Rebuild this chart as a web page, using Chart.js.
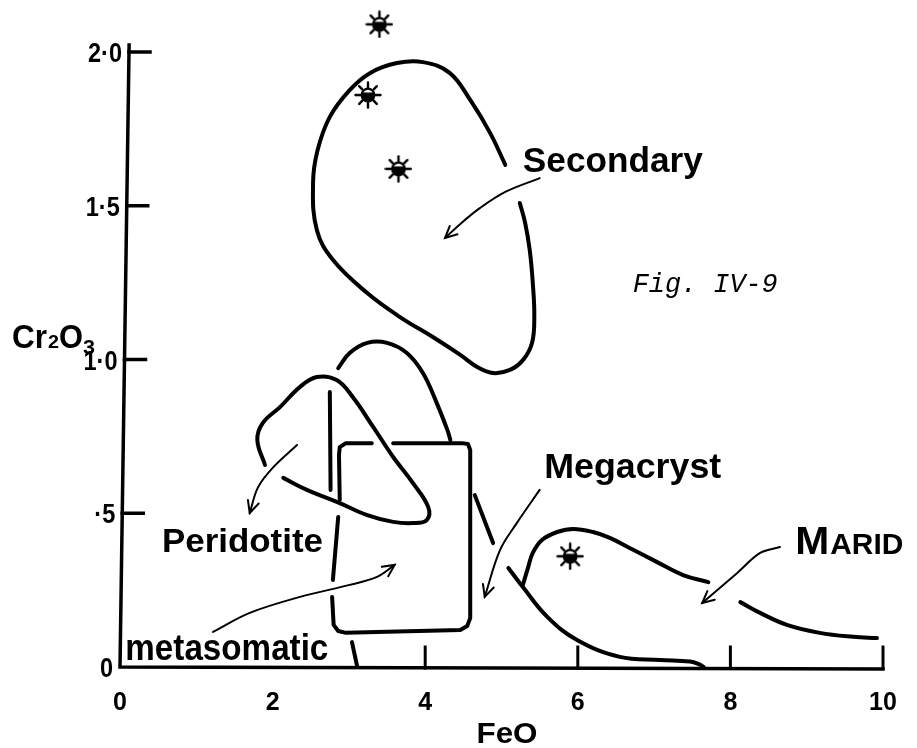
<!DOCTYPE html>
<html>
<head>
<meta charset="utf-8">
<title>FeO vs Cr2O3</title>
<script src="https://cdn.jsdelivr.net/npm/chart.js@4.4.1/dist/chart.umd.min.js"></script>
<style>
  html, body { margin: 0; padding: 0; background: #fff; }
  #plot { display: block; }
</style>
</head>
<body>
<canvas id="plot" width="917" height="748"></canvas>
<script>
// axes
const xTicks = [0, 2, 4, 6, 8, 10];
const xTickLabels = ['0', '2', '4', '6', '8', '10'];
const xTickMarks = [4, 6, 8, 10];
const yTicks = [0, 0.5, 1.0, 1.5, 2.0];
const yTickLabels = ['0', '·5', '1·0', '1·5', '2·0'];
const yTop = 2.12; // headroom for the grain plotted above 2·0

// field outlines as [FeO, Cr2O3]; null = pen lifted
const secondaryField = [[5.05,1.633],[4.85,1.737],[4.59,1.844],[4.32,1.932],[3.97,1.967],[3.63,1.964],
  [3.28,1.932],[3.01,1.876],[2.75,1.789],[2.59,1.681],[2.53,1.574],[2.58,1.421],[2.79,1.324],
  [3.24,1.216],[3.67,1.138],[4.10,1.073],[4.46,1.015],[4.68,0.976],[4.89,0.956],[5.11,0.966],
  [5.28,0.998],[5.40,1.054],[5.43,1.138],[5.41,1.249],[5.37,1.356],[5.31,1.444],[5.24,1.509]];
const archField = [[2.86,0.972],[3.01,1.021],[3.24,1.054],[3.50,1.054],[3.76,1.021],[3.97,0.956],
  [4.15,0.859],[4.29,0.771],[4.33,0.738]];
const peridotiteField = [[1.90,0.657],[1.80,0.738],[1.87,0.793],[2.10,0.846],[2.36,0.911],[2.58,0.943],
  [2.84,0.933],[3.05,0.878],[3.32,0.780],[3.58,0.683],[3.84,0.598],[4.04,0.520],[4.02,0.478],
  [3.84,0.468],[3.58,0.472],[3.24,0.494],[2.88,0.533],[2.45,0.576],[2.14,0.615]];
const metasomaticBox = [[3.30,0.728],[2.96,0.728],[2.88,0.715],[2.87,0.689],[2.88,0.543], null,
  [2.86,0.488],[2.79,0.283], null,
  [2.78,0.228],[2.80,0.137],[2.86,0.117],[2.96,0.111],[4.46,0.120],[4.55,0.133],[4.59,0.159],
  [4.59,0.706],[4.56,0.725],[4.48,0.728],[3.58,0.728]];
const boxSideLine = [[2.75,0.894],[2.76,0.576]];
const boxFootLine = [[3.04,0.081],[3.11,0.0]];
const megacrystLine = [[4.65,0.559],[4.89,0.403]];
const maridLower = [[5.09,0.322],[5.28,0.260],[5.60,0.163],[5.99,0.088],[6.55,0.033],[7.08,0.023],
  [7.47,0.018],[7.60,0.008],[7.65,0.0]];
const maridUpper = [[5.28,0.267],[5.35,0.325],[5.41,0.371],[5.53,0.413],[5.73,0.439],[5.94,0.449],
  [6.20,0.439],[6.42,0.420],[6.68,0.387],[7.04,0.341],[7.38,0.299],[7.71,0.276]];
const maridTail = [[8.13,0.211],[8.39,0.176],[8.74,0.137],[9.17,0.111],[9.61,0.098],[9.92,0.094]];

// pointer arrows, tail first
const secondaryArrow = [[5.50,1.590],[5.05,1.545],[4.72,1.493],[4.46,1.441],[4.26,1.395]];
const peridotiteArrow = [[2.32,0.722],[2.01,0.650],[1.81,0.585],[1.70,0.501]];
const metasomaticArrow = [[1.22,0.114],[1.70,0.176],[2.36,0.228],[3.01,0.267],[3.37,0.293],[3.60,0.332]];
const megacrystArrow = [[5.50,0.576],[5.20,0.468],[4.98,0.380],[4.78,0.228]];
const maridArrow = [[8.65,0.390],[8.39,0.371],[8.09,0.306],[7.63,0.208]];

// analysed grains
const starFeO = [3.40, 3.25, 3.65, 5.90];
const starCr2O3 = [2.09, 1.86, 1.62, 0.36];

function toPoints(list) {
  return list.map(p => p ? { x: p[0], y: p[1] } : { x: null, y: null });
}

// half-filled circle with rays
function makeStar() {
  const c = document.createElement('canvas');
  c.width = 28; c.height = 28;
  const g = c.getContext('2d');
  const cx = 14, cy = 14;
  g.strokeStyle = '#000';
  g.lineWidth = 2.4;
  g.lineCap = 'round';
  for (let i = 0; i < 8; i++) {
    const a = i * Math.PI / 4;
    g.beginPath();
    g.moveTo(cx + Math.cos(a) * 7, cy + Math.sin(a) * 7);
    g.lineTo(cx + Math.cos(a) * 12.5, cy + Math.sin(a) * 12.5);
    g.stroke();
  }
  g.fillStyle = '#fff';
  g.beginPath(); g.arc(cx, cy, 7, 0, Math.PI * 2); g.fill();
  g.fillStyle = '#000';
  g.beginPath(); g.arc(cx, cy, 7.2, -0.35, Math.PI + 0.35); g.closePath(); g.fill();
  g.lineWidth = 2.2;
  g.beginPath(); g.arc(cx, cy, 6.3, 0, Math.PI * 2); g.stroke();
  return c;
}

function outline(data, opts) {
  return Object.assign({
    data: toPoints(data),
    showLine: true,
    borderColor: '#000',
    borderWidth: 4,
    borderCapStyle: 'round',
    borderJoinStyle: 'round',
    tension: 0.4,
    pointRadius: 0,
    spanGaps: false,
    clip: false
  }, opts || {});
}

function arrow(data) {
  return outline(data, { borderWidth: 2, arrow: true, tension: 0.35 });
}

const datasets = [
  outline(secondaryField),
  outline(archField),
  outline(peridotiteField),
  outline(metasomaticBox, { tension: 0 }),
  outline(boxSideLine, { tension: 0 }),
  outline(boxFootLine, { tension: 0 }),
  outline(megacrystLine, { tension: 0 }),
  outline(maridLower),
  outline(maridUpper),
  outline(maridTail),
  arrow(secondaryArrow),
  arrow(peridotiteArrow),
  arrow(metasomaticArrow),
  arrow(megacrystArrow),
  arrow(maridArrow),
  {
    data: starFeO.map((x, i) => ({ x: x, y: starCr2O3[i] })),
    showLine: false,
    pointStyle: makeStar(),
    pointRadius: 10,
    clip: false
  }
];

// text placed in data coordinates
const fieldLabels = [
  { text: 'Secondary', x: 5.28, y: 1.61, font: 'bold 35px "Liberation Sans", Arial, sans-serif', width: 180 },
  { text: 'Megacryst', x: 5.56, y: 0.615, font: 'bold 35px "Liberation Sans", Arial, sans-serif', width: 177 },
  { text: 'Peridotite', x: 0.55, y: 0.374, font: 'bold 33px "Liberation Sans", Arial, sans-serif', width: 161 },
  { text: 'metasomatic', x: 0.07, y: 0.023, font: 'bold 36px "Liberation Sans", Arial, sans-serif', width: 203 },
  { text: 'Fig. IV-9', x: 6.72, y: 1.22, font: 'italic 27px "Liberation Mono", "Courier New", monospace', width: 145 }
];

function fitText(ctx, text, x, y, font, width) {
  ctx.save();
  ctx.font = font;
  const w = ctx.measureText(text).width;
  ctx.translate(x, y);
  ctx.scale(width ? width / w : 1, 1);
  ctx.fillText(text, 0, 0);
  ctx.restore();
  return width || w;
}

const axesPlugin = {
  id: 'handAxes',
  afterDatasetsDraw(chart) {
    const ctx = chart.ctx;
    const xs = chart.scales.x, ys = chart.scales.y;
    const area = chart.chartArea;
    const top = ys.getPixelForValue(2.0);
    const lean = 9; // y axis leans right toward the top
    const axisX = py => area.left + lean * (area.bottom - py) / (area.bottom - top);

    ctx.save();
    ctx.strokeStyle = '#000';
    ctx.fillStyle = '#000';
    ctx.lineCap = 'square';
    ctx.lineWidth = 3.5;

    // axis lines
    ctx.beginPath();
    ctx.moveTo(axisX(top - 7), top - 7);
    ctx.lineTo(area.left, area.bottom);
    ctx.lineTo(area.right, area.bottom + 2);
    ctx.stroke();

    // inward ticks
    yTicks.forEach(v => {
      if (v === 0) return;
      const py = ys.getPixelForValue(v);
      ctx.beginPath();
      ctx.moveTo(axisX(py), py);
      ctx.lineTo(axisX(py) + 21, py);
      ctx.stroke();
    });
    ctx.lineWidth = 3;
    xTickMarks.forEach(v => {
      const px = xs.getPixelForValue(v);
      ctx.beginPath();
      ctx.moveTo(px, area.bottom + 1);
      ctx.lineTo(px, area.bottom - 20);
      ctx.stroke();
    });

    // tick labels
    ctx.textBaseline = 'alphabetic';
    ctx.textAlign = 'left';
    const tickFont = 'bold 28px "Liberation Sans", Arial, sans-serif';
    yTicks.forEach((v, i) => {
      const py = ys.getPixelForValue(v);
      ctx.font = tickFont;
      const w = ctx.measureText(yTickLabels[i]).width * 0.84;
      fitText(ctx, yTickLabels[i], axisX(py) - 7 - w, py + 10, tickFont, w);
    });
    const xFont = 'bold 25px "Liberation Sans", Arial, sans-serif';
    xTicks.forEach((v, i) => {
      const px = xs.getPixelForValue(v);
      ctx.font = xFont;
      const w = ctx.measureText(xTickLabels[i]).width;
      fitText(ctx, xTickLabels[i], px - w / 2, area.bottom + 43, xFont, w);
    });

    // axis titles
    fitText(ctx, 'FeO', (area.left + area.right) / 2 - 25, area.bottom + 76,
      'bold 29px "Liberation Sans", Arial, sans-serif', 61);
    const ty = ys.getPixelForValue(1.0) - 12;
    let tx = area.left - 108;
    tx += fitText(ctx, 'Cr', tx, ty, 'bold 34px "Liberation Sans", Arial, sans-serif', 35);
    tx += fitText(ctx, '2', tx + 1, ty, 'bold 19px "Liberation Sans", Arial, sans-serif', 11) + 1;
    tx += fitText(ctx, 'O', tx, ty, 'bold 34px "Liberation Sans", Arial, sans-serif', 24);
    fitText(ctx, '3', tx, ty + 6, 'bold 21px "Liberation Sans", Arial, sans-serif', 12);

    // field names
    fieldLabels.forEach(l => {
      fitText(ctx, l.text, xs.getPixelForValue(l.x), ys.getPixelForValue(l.y), l.font, l.width);
    });
    // MARID in small capitals
    const mx = xs.getPixelForValue(8.85), my = ys.getPixelForValue(0.367);
    const mw = fitText(ctx, 'M', mx, my, 'bold 38px "Liberation Sans", Arial, sans-serif', 34);
    fitText(ctx, 'ARID', mx + mw + 1, my, 'bold 29px "Liberation Sans", Arial, sans-serif', 73);

    // open arrowheads at the end of each pointer
    ctx.lineWidth = 2;
    ctx.lineCap = 'round';
    chart.data.datasets.forEach((ds, i) => {
      if (!ds.arrow) return;
      const pts = chart.getDatasetMeta(i).data;
      const a = pts[pts.length - 2], b = pts[pts.length - 1];
      const ang = Math.atan2(b.y - a.y, b.x - a.x);
      const len = 13, spread = 0.45;
      ctx.beginPath();
      ctx.moveTo(b.x - len * Math.cos(ang - spread), b.y - len * Math.sin(ang - spread));
      ctx.lineTo(b.x, b.y);
      ctx.lineTo(b.x - len * Math.cos(ang + spread), b.y - len * Math.sin(ang + spread));
      ctx.stroke();
    });
    ctx.restore();
  }
};

// 2·0 sits 52px from the top, so the extra headroom shrinks the top padding
const topPad = 52 - (yTop - 2.0) * 615 / 2.0;

new Chart(document.getElementById('plot').getContext('2d'), {
  type: 'scatter',
  data: { datasets: datasets },
  options: {
    responsive: false,
    animation: false,
    layout: { padding: { left: 120, right: 34, top: topPad, bottom: 81 } },
    plugins: { legend: { display: false }, tooltip: { enabled: false } },
    scales: {
      x: { type: 'linear', min: 0, max: 10, display: false },
      y: { type: 'linear', min: 0, max: yTop, display: false }
    }
  },
  plugins: [axesPlugin]
});
</script>
</body>
</html>
